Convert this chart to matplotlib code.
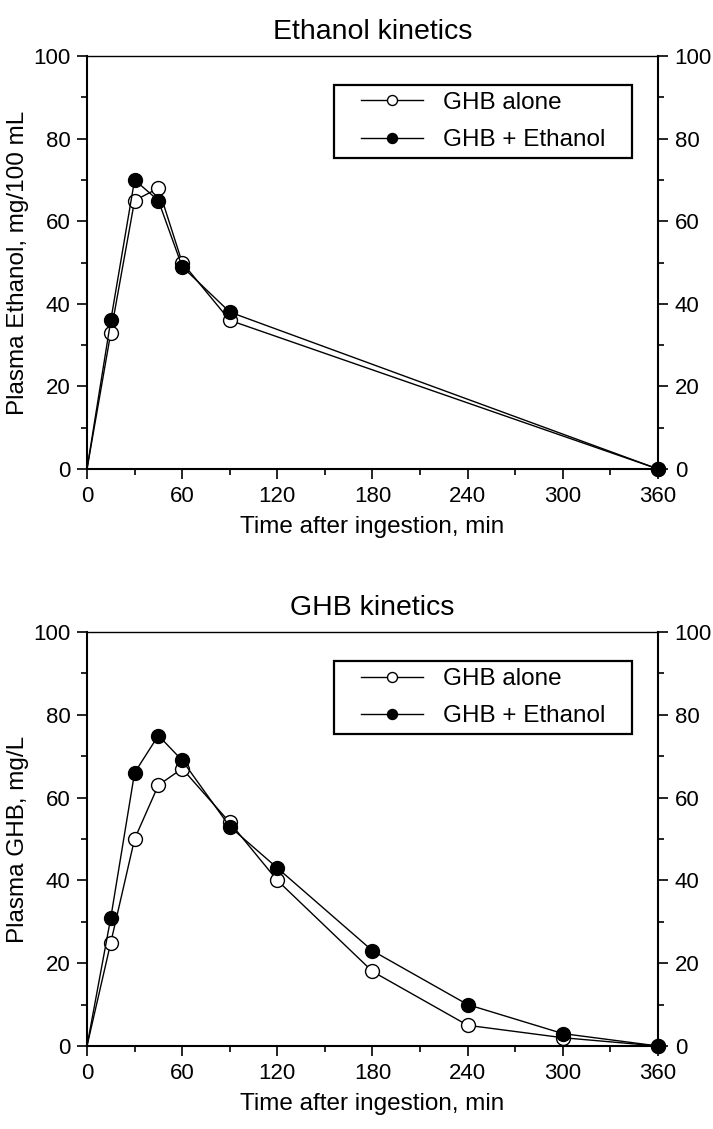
import matplotlib
matplotlib.use("Agg")
import matplotlib.pyplot as plt
from matplotlib.ticker import MultipleLocator
from matplotlib.patches import Rectangle

plt.rcParams['font.family'] = ['Liberation Sans', 'DejaVu Sans']

# Ethanol kinetics data
eth_time = [0, 15, 30, 45, 60, 90, 360]
eth_alone = [0, 33, 65, 68, 50, 36, 0]
eth_combo = [0, 36, 70, 65, 49, 38, 0]

# GHB kinetics data
ghb_time = [0, 15, 30, 45, 60, 90, 120, 180, 240, 300, 360]
ghb_alone = [0, 25, 50, 63, 67, 54, 40, 18, 5, 2, 0]
ghb_combo = [0, 31, 66, 75, 69, 53, 43, 23, 10, 3, 0]

x_ticks = [0, 60, 120, 180, 240, 300, 360]
y_ticks = [0, 20, 40, 60, 80, 100]
labels = ["GHB alone", "GHB + Ethanol"]

W, H = 713, 1129
fig = plt.figure(figsize=(W/100, H/100), dpi=100)
L, R = 87, 658
ax1 = fig.add_axes([L/W, 1-469/H, (R-L)/W, (469-56)/H])
ax2 = fig.add_axes([L/W, 1-1046/H, (R-L)/W, (1046-632)/H])

def draw(ax, t, a, c, title, ylabel):
    n = len(t)
    ax.plot(t, a, color='black', lw=1.0, marker='o', ms=10, mfc='white', mec='black',
            mew=1.0, markevery=list(range(1, n)), label=labels[0], zorder=3, clip_on=False)
    ax.plot(t, c, color='black', lw=1.0, marker='o', ms=10, mfc='black', mec='black',
            mew=1.0, markevery=list(range(1, n)), label=labels[1], zorder=4, clip_on=False)
    ax.set_xlim(0, 360)
    ax.set_ylim(0, 100)
    ax.set_xticks(x_ticks)
    ax.set_yticks(y_ticks)
    ax.xaxis.set_minor_locator(MultipleLocator(30))
    ax.yaxis.set_minor_locator(MultipleLocator(10))
    ax.tick_params(axis='both', which='major', direction='out', length=7, width=1.2,
                   labelsize=16, pad=5)
    ax.tick_params(axis='both', which='minor', direction='out', length=4, width=1.2)
    ax.tick_params(axis='y', which='both', left=True, right=True, labelleft=True, labelright=True)
    ax.tick_params(axis='x', which='both', bottom=True, top=False)
    for s in ['left', 'right', 'bottom']:
        ax.spines[s].set_linewidth(1.5)
    ax.spines['top'].set_linewidth(1.0)
    ax.set_title(title, fontsize=20.5, pad=12)
    ax.set_xlabel("Time after ingestion, min", fontsize=17.5, labelpad=7)
    ax.set_ylabel(ylabel, fontsize=17.5, labelpad=3)
    # legend box (drawn separately for wider horizontal padding)
    x0, x1 = 0.4326, 0.9545
    y0, y1 = 0.753, 0.9298
    ax.add_patch(Rectangle((x0, y0), x1 - x0, y1 - y0, transform=ax.transAxes,
                           fill=True, facecolor='white', edgecolor='black', lw=1.6, zorder=5))
    leg = ax.legend(loc='center', bbox_to_anchor=((x0 + x1) / 2, (y0 + y1) / 2), frameon=False,
                    fontsize=17.5, handlelength=2.55, borderpad=0.0, labelspacing=0.62,
                    handletextpad=0.8, borderaxespad=0.0, markerscale=0.72)
    leg.set_zorder(6)

draw(ax1, eth_time, eth_alone, eth_combo, "Ethanol kinetics", "Plasma Ethanol, mg/100 mL")
draw(ax2, ghb_time, ghb_alone, ghb_combo, "GHB kinetics", "Plasma GHB, mg/L")

fig.savefig("out.png", dpi=100, facecolor='white')
